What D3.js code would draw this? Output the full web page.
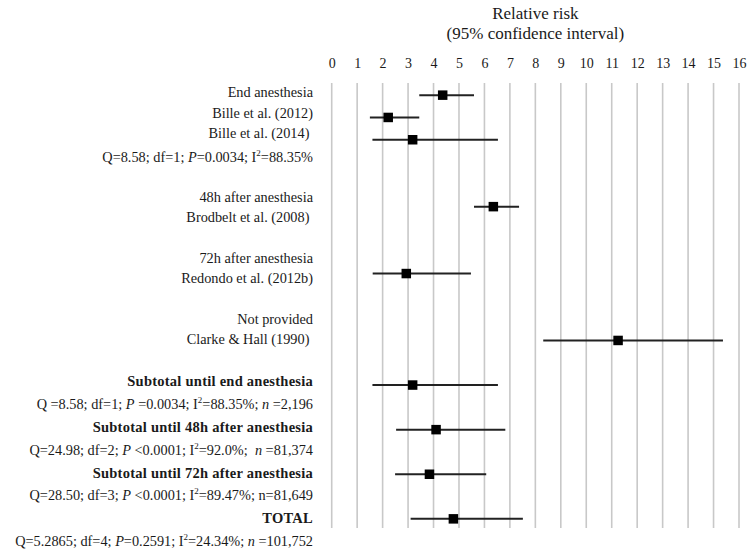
<!DOCTYPE html>
<html>
<head>
<meta charset="utf-8">
<script src="https://cdn.jsdelivr.net/npm/d3@7"></script>
<style>
  html, body { margin: 0; padding: 0; background: #ffffff; }
  svg { display: block; }
  text { font-family: "Liberation Serif", "Times New Roman", serif; fill: #1a1a1a; }
</style>
</head>
<body>
<svg id="chart" width="755" height="553"></svg>
<script>
// ---------------- DATA ----------------
const titleLines = ["Relative risk", "(95% confidence interval)"];
const tickValues = [0, 1, 2, 3, 4, 5, 6, 7, 8, 9, 10, 11, 12, 13, 14, 15, 16];

// Plotted estimates (category slot on the chart's row axis)
const rowNames = ["End anesthesia", "Bille et al. (2012)", "Bille et al. (2014)",
  "Brodbelt et al. (2008)", "Redondo et al. (2012b)", "Clarke & Hall (1990)",
  "Subtotal until end anesthesia", "Subtotal until 48h after anesthesia",
  "Subtotal until 72h after anesthesia", "TOTAL"];
const rowSlot = [0, 1, 2, 5, 8, 11, 13, 15, 17, 19];
const relRisk = [4.36, 2.22, 3.18, 6.35, 2.93, 11.25, 3.18, 4.10, 3.84, 4.78];
const ciLow   = [3.44, 1.50, 1.60, 5.59, 1.61, 8.31, 1.60, 2.53, 2.49, 3.10];
const ciHigh  = [5.59, 3.44, 6.53, 7.36, 5.47, 15.37, 6.53, 6.82, 6.07, 7.51];

// Left-hand text lines (*x* = italic, ^x = superscript)
const labelText = [
  "End anesthesia",
  "Bille et al. (2012)",
  "Bille et al. (2014)\u00a0",
  "Q=8.58; df=1; *P*=0.0034; I^2=88.35%",
  "48h after anesthesia",
  "Brodbelt et al. (2008)\u00a0",
  "72h after anesthesia",
  "Redondo et al. (2012b)",
  "Not provided",
  "Clarke & Hall (1990)\u00a0",
  "Subtotal until end anesthesia",
  "Q =8.58; df=1; *P* =0.0034; I^2=88.35%; *n* =2,196",
  "Subtotal until 48h after anesthesia",
  "Q=24.98; df=2; *P* <0.0001; I^2=92.0%;  *n* =81,374",
  "Subtotal until 72h after anesthesia",
  "Q=28.50; df=3; *P* <0.0001; I^2=89.47%; n=81,649",
  "TOTAL",
  "Q=5.2865; df=4; *P*=0.2591; I^2=24.34%; *n* =101,752"
];
const labelLine = [0, 1, 2, 3, 5, 6, 8, 9, 11, 12, 13, 14, 15, 16, 17, 18, 19, 20];
const labelBold = [false, false, false, false, false, false, false, false, false, false,
  true, false, true, false, true, false, true, false];

// ---------------- CHART ----------------
const svg = d3.select("#chart");

const x = d3.scaleLinear().domain([0, 16]).range([331.7, 739]);
const yRow = d3.scaleBand().domain(d3.range(20)).range([84, 530]).padding(0);
const yLine = d3.scaleLinear().domain([0, 2, 3, 12, 13, 20]).range([92, 133, 156.5, 339, 381, 541]);

const gridTop = 83, gridBottom = 528;

// Title
svg.append("g").selectAll("text").data(titleLines).join("text")
  .attr("x", (x(0) + x(16)) / 2)
  .attr("y", (d, i) => 13 + i * 20.5)
  .attr("dy", "0.35em")
  .attr("text-anchor", "middle")
  .style("font-size", "17px")
  .text(d => d);

// Axis (tick labels on top, vertical grid)
const axis = d3.axisTop(x).tickValues(tickValues).tickSize(0).tickPadding(0).tickFormat(d3.format("d"));
const gAxis = svg.append("g").attr("transform", "translate(0,68)").call(axis);
gAxis.select(".domain").remove();
gAxis.selectAll("text")
  .style("font-family", '"Liberation Serif", "Times New Roman", serif')
  .style("font-size", "14px")
  .attr("fill", "#1a1a1a")
  .attr("y", 0).attr("dy", 0);

svg.append("g").selectAll("line").data(tickValues).join("line")
  .attr("x1", d => x(d)).attr("x2", d => x(d))
  .attr("y1", gridTop).attr("y2", gridBottom)
  .attr("stroke", "#c8c8c8").attr("stroke-width", 1.6);

// Error bars and markers
const rows = rowNames.map((n, i) => ({ name: n, slot: rowSlot[i], rr: relRisk[i], lo: ciLow[i], hi: ciHigh[i] }));
const cy = d => yRow(d.slot) + yRow.bandwidth() / 2;

svg.append("g").selectAll("line").data(rows).join("line")
  .attr("x1", d => x(d.lo)).attr("x2", d => x(d.hi))
  .attr("y1", cy).attr("y2", cy)
  .attr("stroke", "#222").attr("stroke-width", 2);

const ms = 9.5;
svg.append("g").selectAll("rect").data(rows).join("rect")
  .attr("x", d => x(d.rr) - ms / 2).attr("y", d => cy(d) - ms / 2)
  .attr("width", ms).attr("height", ms)
  .attr("fill", "#000");

// Left labels
function parseSegments(s) {
  const segs = [];
  const re = /(\*[^*]+\*|\^\S)/g;
  let last = 0, m;
  while ((m = re.exec(s)) !== null) {
    if (m.index > last) segs.push({ t: s.slice(last, m.index), k: "n" });
    if (m[0][0] === "*") segs.push({ t: m[0].slice(1, -1), k: "i" });
    else segs.push({ t: m[0].slice(1), k: "s" });
    last = re.lastIndex;
  }
  if (last < s.length) segs.push({ t: s.slice(last), k: "n" });
  return segs;
}

const gLab = svg.append("g");
labelText.forEach((s, i) => {
  const t = gLab.append("text")
    .attr("x", 313)
    .attr("y", yLine(labelLine[i]))
    .attr("dy", "0.35em")
    .attr("text-anchor", "end")
    .attr("xml:space", "preserve")
    .style("white-space", "pre")
    .style("font-size", labelBold[i] ? "14.5px" : "14.3px")
    .style("letter-spacing", labelBold[i] ? "0.25px" : "0px")
    .style("font-weight", labelBold[i] ? "bold" : "normal");
  let raised = false;
  parseSegments(s).forEach(seg => {
    const ts = t.append("tspan").text(seg.t);
    if (seg.k === "i") ts.style("font-style", "italic");
    if (seg.k === "s") { ts.attr("dy", -6).style("font-size", "9px"); raised = true; }
    else if (raised) { ts.attr("dy", 6); raised = false; }
  });
});
</script>
</body>
</html>
